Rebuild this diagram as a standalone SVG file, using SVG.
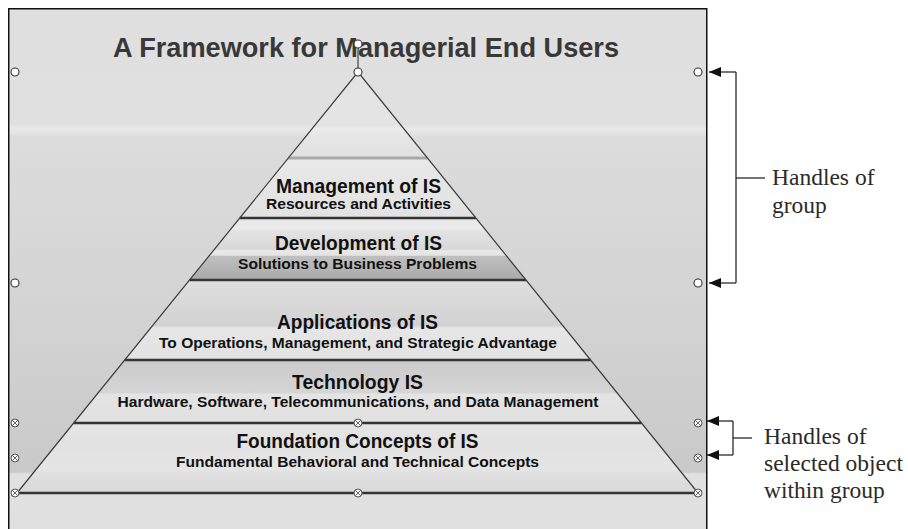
<svg xmlns="http://www.w3.org/2000/svg" width="908" height="529" viewBox="0 0 908 529">
<style>
.title{font-family:"Liberation Sans",Arial,sans-serif;font-weight:bold;font-size:27px;fill:#383838}
.lbl{font-family:"Liberation Sans",Arial,sans-serif;font-weight:bold;font-size:20.5px;fill:#111}
.sub{font-family:"Liberation Sans",Arial,sans-serif;font-weight:bold;font-size:14.5px;fill:#111}
.call{font-family:"Liberation Serif","Times New Roman",serif;font-size:23.5px;fill:#2a2a2a}
.sep{stroke:#353535;stroke-width:2.5;fill:none}
.side{stroke:#3c3c3c;stroke-width:1.2;fill:none}
.h{fill:#fff;stroke:#333;stroke-width:1.1}
.hx{fill:#fff;stroke:#555;stroke-width:1}
.cl{stroke:#2a2a2a;stroke-width:1.3;fill:none}
</style>
<defs>
<linearGradient id="bg" gradientUnits="userSpaceOnUse" x1="0" y1="8" x2="0" y2="529">
<stop offset="0" stop-color="#dfdfdf"/>
<stop offset="0.2246" stop-color="#e0e0e0"/>
<stop offset="0.2303" stop-color="#e9e9e9"/>
<stop offset="0.2418" stop-color="#e3e3e3"/>
<stop offset="0.2456" stop-color="#dcdcdc"/>
<stop offset="0.5605" stop-color="#d4d4d4"/>
<stop offset="0.8906" stop-color="#c9c9c9"/>
<stop offset="0.8944" stop-color="#e1e1e1"/>
<stop offset="1" stop-color="#e0e0e0"/>
</linearGradient>
<linearGradient id="gTop" gradientUnits="userSpaceOnUse" x1="0" y1="72" x2="0" y2="158">
<stop offset="0" stop-color="#e3e3e3"/>
<stop offset="0.63" stop-color="#e4e4e4"/>
<stop offset="0.66" stop-color="#ececec"/>
<stop offset="0.73" stop-color="#e6e6e6"/>
<stop offset="1" stop-color="#e1e1e1"/>
</linearGradient>
<linearGradient id="gMgmt" gradientUnits="userSpaceOnUse" x1="0" y1="158" x2="0" y2="218">
<stop offset="0" stop-color="#e8e8e8"/>
<stop offset="1" stop-color="#e2e2e2"/>
</linearGradient>
<linearGradient id="gDev" gradientUnits="userSpaceOnUse" x1="0" y1="218" x2="0" y2="280">
<stop offset="0" stop-color="#e6e6e6"/>
<stop offset="0.16" stop-color="#ececec"/>
<stop offset="0.23" stop-color="#e2e2e2"/>
<stop offset="0.51" stop-color="#d8d8d8"/>
<stop offset="0.52" stop-color="#e8e8e8"/>
<stop offset="0.6" stop-color="#e4e4e4"/>
<stop offset="0.62" stop-color="#bfbfbf"/>
<stop offset="1" stop-color="#a9a9a9"/>
</linearGradient>
<linearGradient id="gApp" gradientUnits="userSpaceOnUse" x1="0" y1="280" x2="0" y2="360">
<stop offset="0" stop-color="#dfdfdf"/>
<stop offset="0.57" stop-color="#d2d2d2"/>
<stop offset="0.6" stop-color="#e6e6e6"/>
<stop offset="1" stop-color="#e2e2e2"/>
</linearGradient>
<linearGradient id="gTech" gradientUnits="userSpaceOnUse" x1="0" y1="360" x2="0" y2="423">
<stop offset="0" stop-color="#cbcbcb"/>
<stop offset="0.52" stop-color="#d5d5d5"/>
<stop offset="0.54" stop-color="#e4e4e4"/>
<stop offset="1" stop-color="#e0e0e0"/>
</linearGradient>
<linearGradient id="gFound" gradientUnits="userSpaceOnUse" x1="0" y1="423" x2="0" y2="493">
<stop offset="0" stop-color="#e6e6e6"/>
<stop offset="0.25" stop-color="#e2e2e2"/>
<stop offset="0.65" stop-color="#e5e5e5"/>
<stop offset="0.78" stop-color="#dedede"/>
<stop offset="1" stop-color="#d9d9d9"/>
</linearGradient>
<marker id="arr" viewBox="0 0 12 10" refX="12" refY="5" markerWidth="12" markerHeight="10" markerUnits="userSpaceOnUse" orient="auto">
<path d="M0,0 L12,5 L0,10 z" fill="#111"/>
</marker>
<g id="hxs">
<circle r="4" class="hx"/>
<path d="M-2.8,-2.8 L2.8,2.8 M-2.8,2.8 L2.8,-2.8" stroke="#555" stroke-width="0.9"/>
</g>
</defs>

<g id="slide">
<rect x="0" y="0" width="908" height="529" fill="#fff"/>
<rect x="8.75" y="8.75" width="698" height="530" fill="url(#bg)" stroke="#111" stroke-width="1.5"/>
</g>

<g id="title">
<text class="title" x="366" y="57" text-anchor="middle" textLength="506" lengthAdjust="spacingAndGlyphs">A Framework for Managerial End Users</text>
</g>

<g id="pyramid">
<g id="band-top">
<polygon points="358,72 288.3,158 427.5,158" fill="url(#gTop)"/>
</g>
<g id="band-management">
<polygon points="288.3,158 427.5,158 475.9,218 239.7,218" fill="url(#gMgmt)"/>
<line x1="288.3" y1="158" x2="427.5" y2="158" stroke="#a8a8a8" stroke-width="3"/>
<text class="lbl" x="358.5" y="193" text-anchor="middle" textLength="165" lengthAdjust="spacingAndGlyphs">Management of IS</text>
<text class="sub" x="358.5" y="209" text-anchor="middle" textLength="185" lengthAdjust="spacingAndGlyphs">Resources and Activities</text>
</g>
<g id="band-development">
<polygon points="239.7,218 475.9,218 526,280 189.5,280" fill="url(#gDev)"/>
<text class="lbl" x="358.5" y="250" text-anchor="middle" textLength="167" lengthAdjust="spacingAndGlyphs">Development of IS</text>
<text class="sub" x="357.5" y="269" text-anchor="middle" textLength="239" lengthAdjust="spacingAndGlyphs">Solutions to Business Problems</text>
</g>
<g id="band-applications">
<polygon points="189.5,280 526,280 590.6,360 124.7,360" fill="url(#gApp)"/>
<text class="lbl" x="357.5" y="329" text-anchor="middle" textLength="161" lengthAdjust="spacingAndGlyphs">Applications of IS</text>
<text class="sub" x="358" y="348" text-anchor="middle" textLength="398" lengthAdjust="spacingAndGlyphs">To Operations, Management, and Strategic Advantage</text>
</g>
<g id="band-technology">
<polygon points="124.7,360 590.6,360 641.5,423 73.7,423" fill="url(#gTech)"/>
<text class="lbl" x="357.5" y="389" text-anchor="middle" textLength="131" lengthAdjust="spacingAndGlyphs">Technology IS</text>
<text class="sub" x="358" y="407" text-anchor="middle" textLength="481" lengthAdjust="spacingAndGlyphs">Hardware, Software, Telecommunications, and Data Management</text>
</g>
<g id="band-foundation">
<polygon points="73.7,423 641.5,423 698,493 17,493" fill="url(#gFound)"/>
<text class="lbl" x="357.5" y="448" text-anchor="middle" textLength="242" lengthAdjust="spacingAndGlyphs">Foundation Concepts of IS</text>
<text class="sub" x="357.5" y="467" text-anchor="middle" textLength="363" lengthAdjust="spacingAndGlyphs">Fundamental Behavioral and Technical Concepts</text>
</g>
<g id="outlines">
<line class="sep" x1="239.7" y1="218" x2="475.9" y2="218"/>
<line class="sep" x1="189.5" y1="280" x2="526" y2="280"/>
<line class="sep" x1="124.7" y1="360" x2="590.6" y2="360"/>
<line class="sep" x1="73.7" y1="423" x2="641.5" y2="423"/>
<line class="sep" x1="15" y1="493" x2="698" y2="493"/>
<path class="side" d="M17,493 L358,72 L698,493"/>
</g>
</g>

<g id="group-handles">
<line x1="358" y1="48" x2="358" y2="68" stroke="#333" stroke-width="1.1"/>
<circle class="h" cx="358" cy="44" r="4"/>
<circle class="h" cx="358" cy="72" r="4"/>
<circle class="h" cx="15" cy="72" r="4"/>
<circle class="h" cx="698" cy="72" r="4"/>
<circle class="h" cx="15" cy="283" r="4"/>
<circle class="h" cx="698" cy="283" r="4"/>
</g>

<g id="selection-handles">
<use href="#hxs" x="15" y="423"/>
<use href="#hxs" x="358" y="423"/>
<use href="#hxs" x="698" y="423"/>
<use href="#hxs" x="15" y="458"/>
<use href="#hxs" x="698" y="458"/>
<use href="#hxs" x="15" y="493"/>
<use href="#hxs" x="358" y="493"/>
<use href="#hxs" x="698" y="493"/>
</g>

<g id="connectors">
<path class="cl" d="M736,72 L709,72" marker-end="url(#arr)"/>
<path class="cl" d="M736,283 L709,283" marker-end="url(#arr)"/>
<path class="cl" d="M736,72 L736,283"/>
<path class="cl" d="M736,178 L765,178"/>
<path class="cl" d="M733,421 L707,421" marker-end="url(#arr)"/>
<path class="cl" d="M733,455 L707,455" marker-end="url(#arr)"/>
<path class="cl" d="M733,421 L733,455"/>
<path class="cl" d="M733,438 L752,438"/>
</g>

<g id="callout-group">
<text class="call" x="772" y="185">Handles of</text>
<text class="call" x="772" y="213">group</text>
</g>
<g id="callout-selected">
<text class="call" x="764" y="444">Handles of</text>
<text class="call" x="764" y="471">selected object</text>
<text class="call" x="764" y="498">within group</text>
</g>
</svg>
